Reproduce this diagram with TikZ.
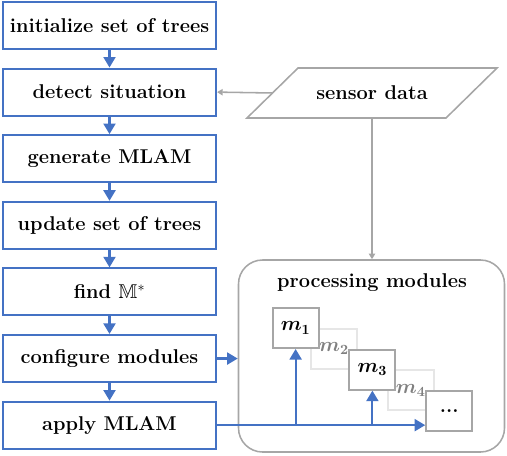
\documentclass[tikz,border=0pt]{standalone}
\usepackage{amssymb}
\usepackage{bm}
\usetikzlibrary{arrows.meta,positioning}

\definecolor{flowblue}{RGB}{68,114,196}
\definecolor{boxgray}{RGB}{166,166,166}
\definecolor{fadegray}{RGB}{230,230,230}
\definecolor{fadetext}{RGB}{128,128,128}

\begin{document}
\begin{tikzpicture}[
    font=\fontsize{14.2}{17}\selectfont\bfseries,
    node distance=0.4375cm,
    stage/.style={
        draw=flowblue, line width=1.5pt, fill=white,
        minimum width=5.325cm, minimum height=1.175cm,
    },
    flow/.style={
        draw=flowblue, line width=1.5pt,
        -{Triangle[width=8.5pt,length=7.5pt]},
    },
    feed/.style={
        draw=boxgray, line width=1.1pt,
        -{Triangle[width=4.5pt,length=4pt]},
    },
    module/.style={
        draw=boxgray, line width=1.4pt, fill=white,
        minimum width=1.15cm, minimum height=1cm, inner sep=0pt,
    },
    idle module/.style={
        module, draw=fadegray, text=fadetext,
    },
    ]
    \useasboundingbox (0,0) rectangle (12.675,-11.375);
    % left column
    \node [stage] (init) at (2.7375,-0.6375) {initialize set of trees};
    \node [stage, below=of init] (detect) {detect situation};
    \node [stage, below=of detect] (generate) {generate MLAM};
    \node [stage, below=of generate] (update) {update set of trees};
    \node [stage, below=of update] (find) {find $\mathbb{M}^*$};
    \node [stage, below=of find] (configure) {configure modules};
    \node [stage, below=of configure] (apply) {apply MLAM};
    \draw [flow] (init) -- (detect);
    \draw [flow] (detect) -- (generate);
    \draw [flow] (generate) -- (update);
    \draw [flow] (update) -- (find);
    \draw [flow] (find) -- (configure);
    \draw [flow] (configure) -- (apply);
    % sensor input
    \node [minimum width=4.975cm, minimum height=1.25cm, outer sep=0pt] (sensor)
        at (9.3,-2.325) {sensor data};
    \draw [boxgray, line width=1.1pt]
        ([xshift=-0.6375cm]sensor.south west) -- ([xshift=-0.6375cm]sensor.south east)
        -- ([xshift=0.6375cm]sensor.north east) -- ([xshift=0.6375cm]sensor.north west)
        -- cycle;
    \draw [feed] (sensor.west) -- (detect.east);
    % modules
    \node [draw=boxgray, line width=1.1pt, rounded corners=0.6cm,
        minimum width=6.65cm, minimum height=4.8cm] (modules)
        at (9.2875,-8.9) {};
    \node (title) at (9.3,-7.075) {processing modules};
    \draw [feed] (sensor.south) -- (sensor.south |- modules.north);
    \node [idle module] (m2) at (8.35,-8.72) {$\bm{m_2}$};
    \node [idle module] (m4) at (10.27,-9.76) {$\bm{m_4}$};
    \node [module] (m1) at (7.39,-8.2) {$\bm{m_1}$};
    \node [module] (m3) at (9.31,-9.24) {$\bm{m_3}$};
    \node [module] (more) at (11.23,-10.28) {...};
    \draw [flow] (configure.east) -- (configure.east -| modules.west);
    \draw [flow] (apply.east) -- (apply.east -| more.west);
    \draw [flow] (m1.south |- apply.east) -- (m1.south);
    \draw [flow] (m3.south |- apply.east) -- (m3.south);
\end{tikzpicture}
\end{document}
